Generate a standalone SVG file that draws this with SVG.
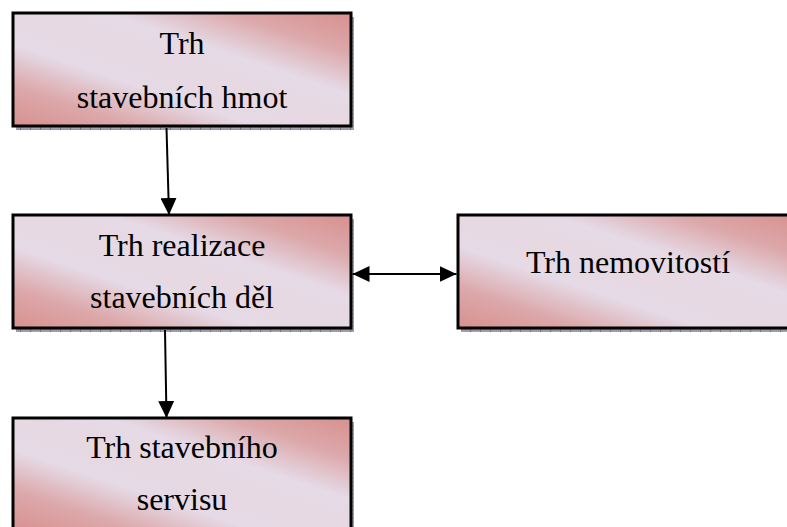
<svg xmlns="http://www.w3.org/2000/svg" width="787" height="527" viewBox="0 0 787 527">
<style>
.box{fill:url(#grad);stroke:#000;stroke-width:3}
.shadow{fill:url(#shpat)}
.lbl{font-family:"Liberation Serif","Times New Roman",serif;font-size:32px;fill:#000;text-anchor:middle}
.conn{stroke:#000;stroke-width:2;fill:none}
</style>
<defs>
<linearGradient id="grad" x1="1" y1="0" x2="0" y2="1">
<stop offset="0" stop-color="#d8908f"/>
<stop offset="0.18" stop-color="#dca8aa"/>
<stop offset="0.36" stop-color="#e5dae6"/>
<stop offset="0.5" stop-color="#e7d8e1"/>
<stop offset="0.64" stop-color="#e5dae6"/>
<stop offset="0.82" stop-color="#dca8aa"/>
<stop offset="1" stop-color="#d8908f"/>
</linearGradient>
<pattern id="shpat" x="0" y="0" width="10" height="4" patternUnits="userSpaceOnUse">
<rect width="10" height="4" fill="#a7a2b2"/>
<rect x="0" y="0" width="1" height="4" fill="#6f6a7a"/>
<rect x="0" y="1.5" width="10" height="1" fill="#8e8999"/>
</pattern>
<marker id="ah" markerUnits="userSpaceOnUse" markerWidth="17" markerHeight="16" refX="17" refY="8" orient="auto-start-reverse" viewBox="0 0 17 16">
<path d="M0,0 L17,8 L0,16 Z" fill="#000"/>
</marker>
</defs>
<g id="node-hmoty">
<rect class="shadow" x="16" y="17" width="338" height="113"/>
<rect class="box" x="13" y="13" width="338" height="113"/>
<text class="lbl" x="182" y="54">Trh</text>
<text class="lbl" x="182" y="108">stavebních hmot</text>
</g>
<g id="node-realizace">
<rect class="shadow" x="16" y="219" width="338" height="113"/>
<rect class="box" x="13" y="215" width="338" height="113"/>
<text class="lbl" x="182" y="256">Trh realizace</text>
<text class="lbl" x="182" y="308">stavebních děl</text>
</g>
<g id="node-nemovitosti">
<rect class="shadow" x="461" y="219" width="340" height="113"/>
<rect class="box" x="458" y="215" width="340" height="113"/>
<text class="lbl" x="628" y="273">Trh nemovitostí</text>
</g>
<g id="node-servis">
<rect class="shadow" x="16" y="422" width="338" height="113"/>
<rect class="box" x="13" y="418" width="338" height="113"/>
<text class="lbl" x="182" y="458">Trh stavebního</text>
<text class="lbl" x="182" y="510">servisu</text>
</g>
<g id="connectors">
<line class="conn" x1="166.5" y1="128" x2="169" y2="215" marker-end="url(#ah)"/>
<line class="conn" x1="165" y1="330" x2="166.5" y2="418" marker-end="url(#ah)"/>
<line class="conn" x1="352.5" y1="274" x2="456.5" y2="274" marker-start="url(#ah)" marker-end="url(#ah)"/>
</g>
</svg>
